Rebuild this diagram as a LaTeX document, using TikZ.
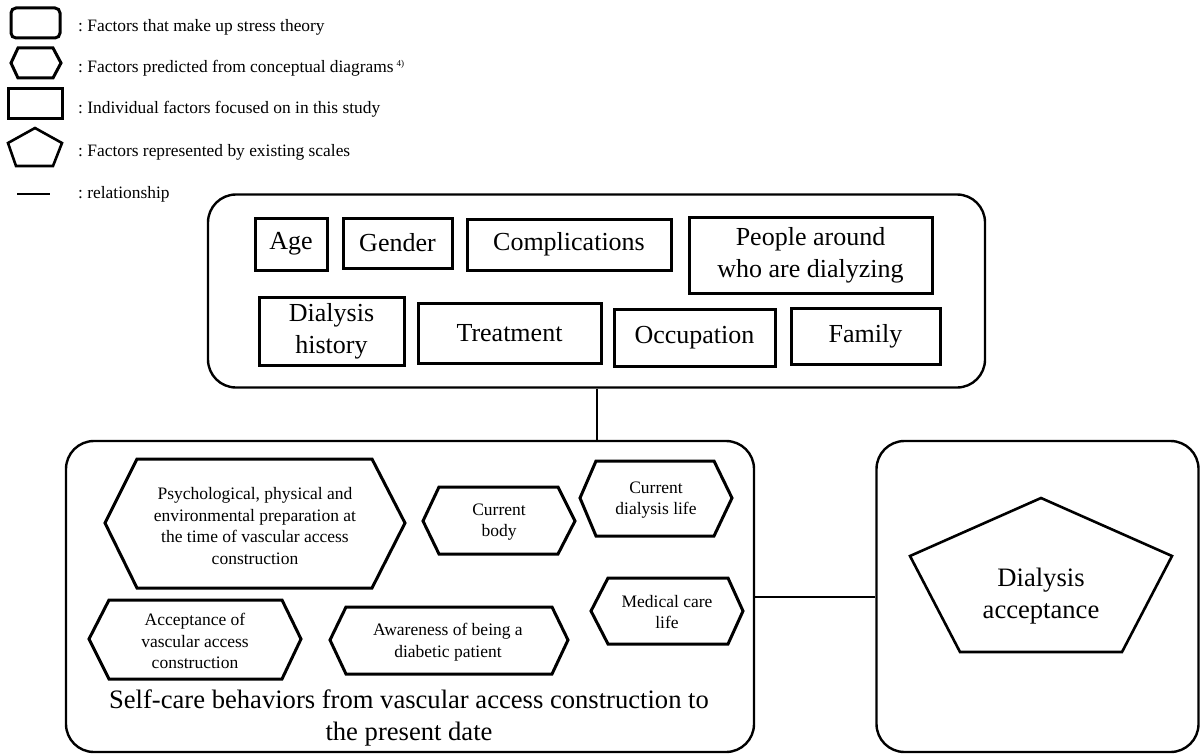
\documentclass[tikz,border=0pt]{standalone}
\usepackage{fontspec}
\setmainfont{Liberation Serif}
\begin{document}
\begin{tikzpicture}[x=1pt,y=-1pt,
  cont/.style={draw,line width=2.4pt,rounded corners=28pt,inner sep=0pt},
  fbox/.style={draw,line width=3pt,inner sep=0pt,align=center,font=\fontsize{26}{32}\selectfont},
  shapeline/.style={line width=3pt,line join=miter},
  hextext/.style={font=\fontsize{17.5}{21.5}\selectfont,align=center,inner sep=0pt},
  bigtext/.style={font=\fontsize{26.6}{32}\selectfont,align=center,inner sep=0pt},
  link/.style={line width=2pt},
  legtext/.style={anchor=base west,font=\fontsize{17.4}{20}\selectfont,inner sep=0pt}]
\useasboundingbox (0,0) rectangle (1201,754);

% ---------- legend ----------
\draw[shapeline,rounded corners=5pt] (11,8) rectangle (60,38);
\node[legtext] (l1) at (78,32) {:\ Factors that make up stress theory};
\draw[shapeline] (11,63) -- (18,48) -- (53,48) -- (61,63) -- (53,78) -- (18,78) -- cycle;
\node[legtext] (l2) at (78,73) {:\ Factors predicted from conceptual diagrams\,\raisebox{6pt}{\fontsize{9}{9}\selectfont 4)}};
\draw[shapeline] (8,89) rectangle (62,119);
\node[legtext] (l3) at (78,114) {:\ Individual factors focused on in this study};
\draw[line width=2.6pt,line join=miter] (35,128) -- (62,143) -- (53,166) -- (16,166) -- (8,143) -- cycle;
\node[legtext] (l4) at (78,157) {:\ Factors represented by existing scales};
\draw[link] (17,194) -- (50,194);
\node[legtext] (l5) at (78,199) {:\ relationship};

% ---------- containers ----------
\node[cont,minimum width=777pt,minimum height=193pt] (top) at (596.5,291) {};
\node[cont,minimum width=688pt,minimum height=311pt] (self) at (410,596.5) {};
\node[cont,minimum width=322pt,minimum height=311pt] (accbox) at (1037.5,596.5) {};

% ---------- individual factors ----------
\node[fbox,minimum width=72pt,minimum height=52pt] (age) at (291,244) {Age};
\node[fbox,minimum width=109pt,minimum height=50pt] (gender) at (397.5,243) {Gender};
\node[fbox,minimum width=204pt,minimum height=51pt] (compl) at (569,244.5) {Complications};
\node[fbox,minimum width=243pt,minimum height=76pt] (people) at (810.5,255) {People around\\who are dialyzing};
\node[fbox,minimum width=145pt,minimum height=68pt] (hist) at (331.5,331) {Dialysis\\history};
\node[fbox,minimum width=183pt,minimum height=60pt] (treat) at (509.5,333) {Treatment};
\node[fbox,minimum width=161pt,minimum height=57pt] (occ) at (694.5,337.5) {Occupation};
\node[fbox,minimum width=149pt,minimum height=56pt] (family) at (865.5,336) {Family};

% ---------- predicted factors (hexagons) ----------
\draw[shapeline] (105,523) -- (137,459) -- (372,459) -- (405,523) -- (372,588) -- (137,588) -- cycle;
\node[hextext] (psy) at (255,526) {Psychological, physical and\\environmental preparation at\\the time of vascular access\\construction};

\draw[shapeline] (423,521) -- (439,487) -- (558,487) -- (575,521) -- (558,554) -- (439,554) -- cycle;
\node[hextext] (body) at (499,522) {Current\\body};

\draw[shapeline] (580,498) -- (596,461) -- (714,461) -- (732,498) -- (714,536) -- (596,536) -- cycle;
\node[hextext] (dlife) at (656,500) {Current\\dialysis life};

\draw[shapeline] (591,611) -- (608,578) -- (728,578) -- (743,611) -- (728,644) -- (608,644) -- cycle;
\node[hextext] (mlife) at (667,612) {Medical care\\life};

\draw[shapeline] (89,639) -- (109,600) -- (282,600) -- (301,639) -- (282,679) -- (109,679) -- cycle;
\node[hextext] (vacc) at (195,641) {Acceptance of\\vascular access\\construction};

\draw[shapeline] (330,640) -- (346,607) -- (552,607) -- (568,640) -- (552,674) -- (346,674) -- cycle;
\node[hextext] (aware) at (448,642) {Awareness of being a\\diabetic patient};

\node[bigtext] (selflabel) at (409,718) {Self-care behaviors from vascular access construction to\\the present date};

% ---------- existing scale (pentagon) ----------
\draw[line width=2.6pt,line join=miter] (1041,498) -- (1172,556) -- (1122,652) -- (960,652) -- (910,556) -- cycle;
\node[bigtext] (dacc) at (1041,596) {Dialysis\\acceptance};

% ---------- relationships ----------
\draw[link] (top.south) -- (top.south |- self.north);
\draw[link] (self.east) -- (accbox.west);
\end{tikzpicture}
\end{document}
